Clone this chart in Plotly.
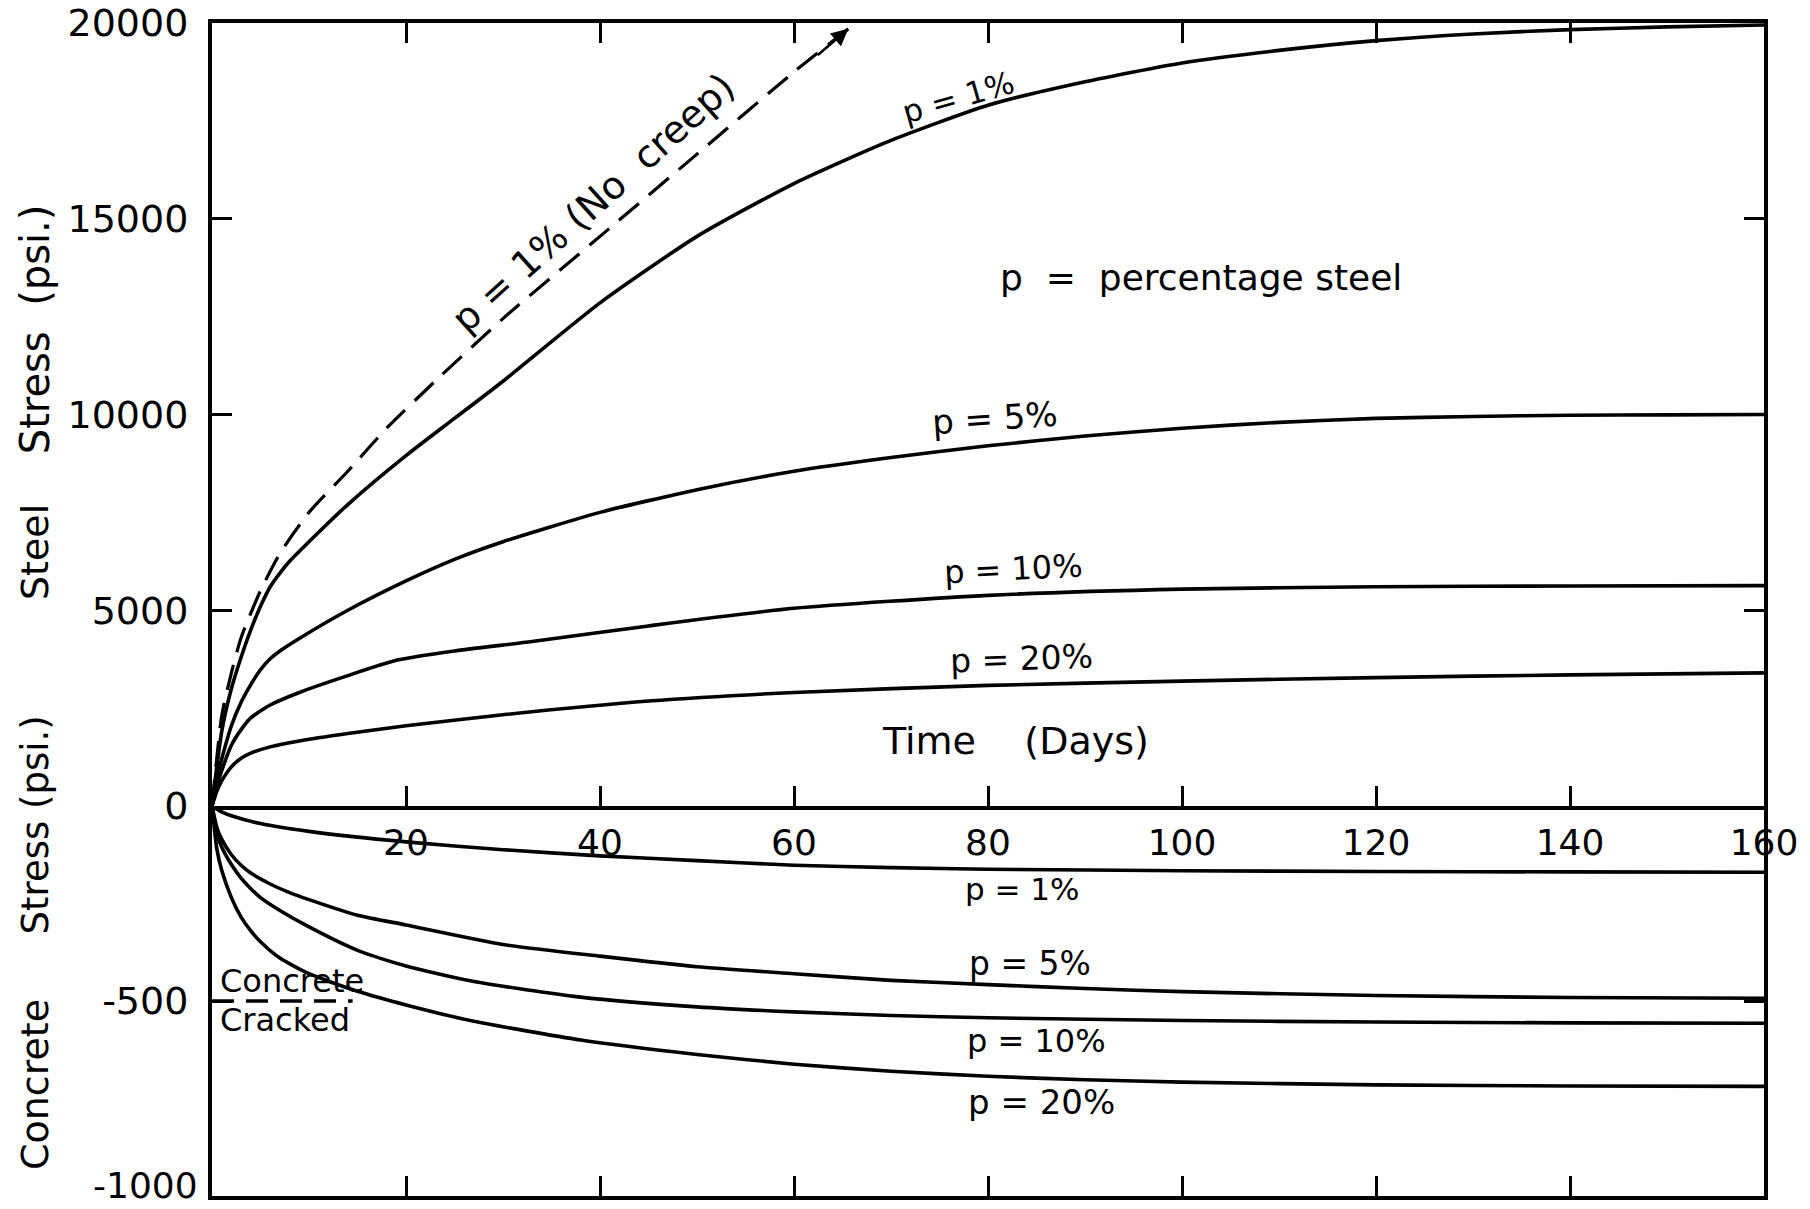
import plotly.graph_objects as go

# Steel stress (psi) against time (days)
days_nocreep = [0, 1, 2, 3, 5, 7, 10, 14, 18, 23, 30, 40, 50, 60, 65.6]
steel_nocreep = [0, 2300, 3400, 4300, 5500, 6450, 7500, 8550, 9650, 10850, 12450, 14550, 16650, 18750, 19850]

days_s1 = [0, 1, 2, 3, 4, 5, 6, 7, 8, 10, 14, 20, 25, 30, 40, 50, 60, 70, 80, 90, 100, 110, 120, 130, 140, 150, 160]
steel_p1 = [0, 1900, 3000, 3800, 4500, 5100, 5600, 5950, 6250, 6750, 7700, 8950, 9900, 10850, 12850, 14550,
            15900, 17000, 17900, 18500, 18980, 19300, 19550, 19720, 19830, 19900, 19950]

days_s5 = [0, 0.5, 1, 2, 3, 4, 5, 6, 7, 9, 14, 20, 25, 30, 40, 50, 60, 70, 80, 90, 100, 110, 120, 130, 140, 150, 160]
steel_p5 = [0, 700, 1200, 2050, 2650, 3100, 3480, 3760, 3960, 4280, 5000, 5750, 6300, 6750, 7500, 8080, 8550,
            8900, 9200, 9450, 9650, 9800, 9900, 9950, 9980, 9990, 10000]

days_s10 = [0, 0.5, 1, 2, 3, 4, 6, 9, 14, 19, 25, 33, 45, 60, 80, 100, 120, 140, 160]
steel_p10 = [0, 500, 900, 1550, 1950, 2250, 2580, 2900, 3330, 3720, 3960, 4200, 4600, 5050, 5380, 5540,
             5600, 5620, 5630]

days_s20 = [0, 0.5, 1, 2, 3, 4, 6, 9, 14, 20, 30, 45, 60, 80, 100, 120, 140, 160]
steel_p20 = [0, 380, 640, 1000, 1220, 1350, 1510, 1660, 1850, 2050, 2330, 2680, 2900, 3080, 3190, 3280,
             3350, 3400]

# Concrete stress (psi) against time (days)
days_c1 = [0, 1, 2, 5, 10, 20, 30, 40, 50, 60, 70, 80, 100, 120, 140, 160]
conc_p1 = [0, -15, -25, -45, -65, -92, -112, -128, -140, -152, -158, -162, -166, -168, -169, -170]

days_c5 = [0, 0.5, 1, 2, 3, 4, 6, 8, 10, 15, 20, 30, 40, 50, 60, 70, 80, 90, 100, 120, 140, 160]
conc_p5 = [0, -55, -85, -125, -152, -172, -200, -222, -240, -280, -305, -355, -385, -412, -430, -447,
           -458, -468, -476, -486, -491, -493]

days_c10 = [0, 0.5, 1, 2, 3, 4, 5, 7, 10, 15, 20, 27, 38, 50, 60, 70, 80, 100, 120, 140, 160]
conc_p10 = [0, -70, -105, -150, -185, -212, -235, -268, -310, -370, -410, -450, -490, -515, -528, -537,
            -543, -550, -554, -556, -557]

days_c20 = [0, 0.5, 1, 2, 3, 4, 5, 7, 10, 15, 20, 27, 38, 50, 60, 70, 80, 90, 100, 120, 140, 160]
conc_p20 = [0, -110, -165, -235, -285, -320, -348, -390, -430, -475, -510, -552, -600, -637, -662, -680,
            -693, -702, -708, -715, -718, -719]

# Axis ticks
x_ticks = [20, 40, 60, 80, 100, 120, 140, 160]
steel_ticks = [0, 5000, 10000, 15000, 20000]
steel_tick_text = ["0", "5000", "10000", "15000", "20000"]
conc_ticks = [-1000, -500]
conc_tick_text = ["", "-500"]
conc_bottom_text = "-1000"
crack_stress = -500

FONT = "DejaVu Sans"
INK = "black"
LW = 3.6
NB = "\u00a0"

fig = go.Figure()

steel_sets = [(days_s1, steel_p1), (days_s5, steel_p5), (days_s10, steel_p10), (days_s20, steel_p20)]
for d, v in steel_sets:
    fig.add_trace(go.Scatter(x=d, y=v, mode="lines", xaxis="x", yaxis="y",
                             line=dict(color=INK, width=LW, shape="spline", smoothing=0.6),
                             hoverinfo="skip", showlegend=False))

fig.add_trace(go.Scatter(x=days_nocreep, y=steel_nocreep, mode="lines", xaxis="x", yaxis="y",
                         line=dict(color=INK, width=3.2, dash="26px,13px", shape="spline", smoothing=0.6),
                         hoverinfo="skip", showlegend=False))

conc_sets = [(days_c1, conc_p1), (days_c5, conc_p5), (days_c10, conc_p10), (days_c20, conc_p20)]
for d, v in conc_sets:
    fig.add_trace(go.Scatter(x=d, y=v, mode="lines", xaxis="x2", yaxis="y2",
                             line=dict(color=INK, width=LW, shape="spline", smoothing=0.6),
                             hoverinfo="skip", showlegend=False))

# "Concrete cracked" level
fig.add_shape(type="line", xref="x2", yref="y2", x0=0, x1=14.5, y0=crack_stress, y1=crack_stress,
              line=dict(color=INK, width=3.5, dash="22px,12px"))

# Arrowhead at the end of the no-creep line
fig.add_annotation(x=days_nocreep[-1], y=steel_nocreep[-1], ax=62.3, ay=19150,
                   xref="x", yref="y", axref="x", ayref="y", text="", showarrow=True,
                   arrowhead=2, arrowsize=1.3, arrowwidth=2.6, arrowcolor=INK)


def label(text, x, y, size=32, angle=0, xref="x", yref="y", xanchor="center", yshift=0):
    fig.add_annotation(text=text, x=x, y=y, xref=xref, yref=yref, showarrow=False,
                       textangle=angle, xanchor=xanchor, yanchor="middle", yshift=yshift,
                       font=dict(family=FONT, size=size, color=INK))


label(f"p = 1% (No{NB}{NB}creep)", 39.3, 15400, size=38, angle=-42)
label("p = 1%", 77.0, 18100, size=31, angle=-16)
label(f"p{NB}{NB}={NB}{NB}percentage steel", 102.0, 13500, size=36)
label("p = 5%", 80.7, 9900, size=34, angle=-4)
label("p = 10%", 82.6, 6050, size=32, angle=-3)
label("p = 20%", 83.5, 3780, size=33, angle=-2)
label(f"Time{NB}{NB}{NB}{NB}(Days)", 82.8, 1650, size=38)

label("p = 1%", 83.6, -213, size=31, xref="x2", yref="y2")
label("p = 5%", 84.3, -405, size=33, xref="x2", yref="y2")
label("p = 10%", 85.0, -603, size=32, xref="x2", yref="y2")
label("p = 20%", 85.5, -759, size=34, xref="x2", yref="y2")
label("Concrete", 0.6, -449, size=32, xref="x2", yref="y2", xanchor="left")
label("Cracked", 0.6, -549, size=32, xref="x2", yref="y2", xanchor="left")

# Bottom concrete tick label, lifted so it stays inside the page
fig.add_annotation(text=conc_bottom_text, x=-0.008, y=0, xref="paper", yref="paper",
                   xanchor="right", yanchor="bottom", yshift=-12, showarrow=False,
                   font=dict(family=FONT, size=36, color=INK))

# Rotated axis titles
label(f"Stress{NB}{NB}(psi.)", -0.114, 0.739, size=40, angle=-90, xref="paper", yref="paper")
label("Steel", -0.114, 0.549, size=38, angle=-90, xref="paper", yref="paper")
label("Stress (psi.)", -0.114, 0.316, size=37, angle=-90, xref="paper", yref="paper")
label("Concrete", -0.114, 0.0946, size=38, angle=-90, xref="paper", yref="paper")

split = 390 / 1173  # fraction of plot height used by the concrete scale

axis_common = dict(showline=True, linecolor=INK, linewidth=4, ticks="inside", ticklen=20,
                   tickwidth=3, tickcolor=INK, showgrid=False, zeroline=False, automargin=False,
                   ticklabeloverflow="allow")
x_font = dict(family=FONT, size=36, color=INK)
y_font = dict(family=FONT, size=38, color=INK)

fig.update_layout(
    width=1810, height=1209,
    margin=dict(l=212, r=46, t=23, b=13),
    paper_bgcolor="white", plot_bgcolor="white",
    showlegend=False,
    xaxis=dict(range=[0, 160], domain=[0, 1], anchor="y", side="bottom", mirror="ticks",
               tickvals=x_ticks, ticklabelstandoff=2, tickfont=x_font, **axis_common),
    xaxis2=dict(range=[0, 160], domain=[0, 1], anchor="y2", side="bottom", matches="x",
                tickvals=x_ticks, showticklabels=False, tickfont=x_font, **axis_common),
    yaxis=dict(range=[0, 20000], domain=[split, 1], anchor="x", mirror="ticks",
               tickvals=steel_ticks, ticktext=steel_tick_text, ticklabelstandoff=12,
               tickfont=y_font, **axis_common),
    yaxis2=dict(range=[-1000, 0], domain=[0, split], anchor="x2", mirror="ticks",
                tickvals=conc_ticks, ticktext=conc_tick_text, ticklabelstandoff=12,
                tickfont=y_font, **axis_common),
)

fig.write_html("out.html", config={"displayModeBar": False})
